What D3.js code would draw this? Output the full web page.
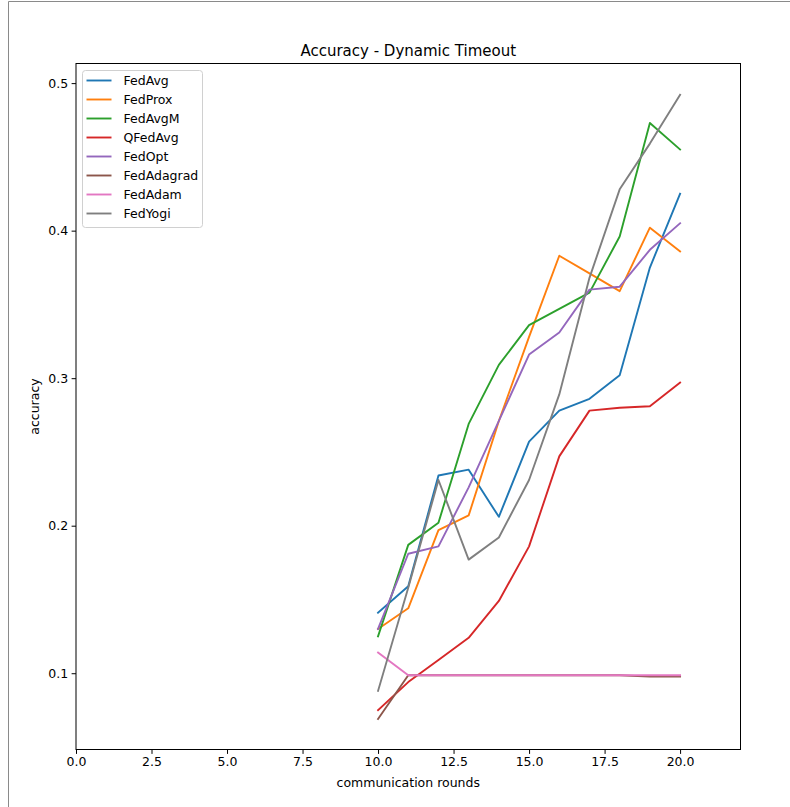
<!DOCTYPE html>
<html>
<head>
<meta charset="utf-8">
<script src="https://cdn.jsdelivr.net/npm/d3@7"></script>
<style>
  html, body { margin: 0; padding: 0; background: #fff; }
  svg { display: block; font-family: "DejaVu Sans", sans-serif; }
</style>
</head>
<body>
<svg id="chart" width="790" height="807"></svg>
<script>
const rounds = [10, 11, 12, 13, 14, 15, 16, 17, 18, 19, 20];
const seriesNames = ["FedAvg", "FedProx", "FedAvgM", "QFedAvg", "FedOpt", "FedAdagrad", "FedAdam", "FedYogi"];
const seriesColors = ["#1f77b4", "#ff7f0e", "#2ca02c", "#d62728", "#9467bd", "#8c564b", "#e377c2", "#7f7f7f"];
const fedAvg     = [0.141, 0.159, 0.234, 0.238, 0.206, 0.257, 0.278, 0.286, 0.302, 0.375, 0.425];
const fedProx    = [0.130, 0.144, 0.197, 0.207, 0.271, 0.328, 0.383, 0.371, 0.359, 0.402, 0.386];
const fedAvgM    = [0.125, 0.187, 0.202, 0.269, 0.309, 0.336, 0.347, 0.358, 0.396, 0.473, 0.455];
const qFedAvg    = [0.075, 0.094, 0.109, 0.124, 0.149, 0.186, 0.247, 0.278, 0.280, 0.281, 0.297];
const fedOpt     = [0.130, 0.181, 0.186, 0.226, 0.271, 0.316, 0.331, 0.360, 0.362, 0.387, 0.405];
const fedAdagrad = [0.069, 0.0986, 0.0986, 0.0986, 0.0986, 0.0986, 0.0986, 0.0986, 0.0986, 0.0977, 0.0977];
const fedAdam    = [0.114, 0.0986, 0.0986, 0.0986, 0.0986, 0.0986, 0.0986, 0.0986, 0.0986, 0.0986, 0.0986];
const fedYogi    = [0.088, 0.158, 0.231, 0.177, 0.192, 0.231, 0.289, 0.368, 0.428, 0.459, 0.492];
const seriesValues = [fedAvg, fedProx, fedAvgM, qFedAvg, fedOpt, fedAdagrad, fedAdam, fedYogi];
const xTicks = [0, 2.5, 5, 7.5, 10, 12.5, 15, 17.5, 20];
const yTicks = [0.1, 0.2, 0.3, 0.4, 0.5];

const svg = d3.select("#chart");
const L = 76, R = 740.5, T = 63.5, B = 749.5;
const x = d3.scaleLinear().domain([0, 22]).range([L, R]);
const y = d3.scaleLinear().domain([0.0483, 0.5133]).range([B, T]);

// figure border (partial, as in reference)
svg.append("path").attr("d", "M8.5,807V1.5H790").attr("fill", "none").attr("stroke", "#8a8a8a").attr("stroke-width", 1);

// title
svg.append("text").attr("x", (L + R) / 2).attr("y", 56).attr("text-anchor", "middle")
  .attr("font-size", 15).attr("fill", "#000").text("Accuracy - Dynamic Timeout");

// lines
const line = d3.line().x((d, i) => x(rounds[i])).y(d => y(d));
const g = svg.append("g");
seriesValues.forEach((vals, k) => {
  g.append("path").datum(vals).attr("d", line).attr("fill", "none")
    .attr("stroke", seriesColors[k]).attr("stroke-width", 1.9)
    .attr("stroke-linejoin", "round").attr("stroke-linecap", "square");
});

// axes
const xAxis = d3.axisBottom(x).tickValues(xTicks).tickFormat(d3.format(".1f")).tickSize(4.4).tickPadding(3.5);
const yAxis = d3.axisLeft(y).tickValues(yTicks).tickFormat(d3.format(".1f")).tickSize(4.4).tickPadding(3.5);
const gx = svg.append("g").attr("transform", `translate(0,${B})`).call(xAxis);
const gy = svg.append("g").attr("transform", `translate(${L},0)`).call(yAxis);
[gx, gy].forEach(a => {
  a.select(".domain").remove();
  a.selectAll(".tick line").attr("stroke", "#000").attr("stroke-width", 1);
  a.selectAll(".tick text").attr("font-size", 12.5).attr("fill", "#000").attr("font-family", "DejaVu Sans, sans-serif");
});

// frame
svg.append("rect").attr("x", L).attr("y", T).attr("width", R - L).attr("height", B - T)
  .attr("fill", "none").attr("stroke", "#000").attr("stroke-width", 1);

// axis labels
svg.append("text").attr("x", (L + R) / 2).attr("y", 787).attr("text-anchor", "middle")
  .attr("font-size", 12.5).attr("fill", "#000").text("communication rounds");
svg.append("text").attr("transform", `translate(39,${(T + B) / 2}) rotate(-90)`).attr("text-anchor", "middle")
  .attr("font-size", 12.5).attr("fill", "#000").text("accuracy");

// legend
const lg = svg.append("g").attr("transform", "translate(82.5,70.5)");
lg.append("rect").attr("width", 120).attr("height", 157).attr("rx", 3)
  .attr("fill", "#fff").attr("fill-opacity", 0.8).attr("stroke", "#d0d0d0").attr("stroke-width", 1);
seriesNames.forEach((name, k) => {
  const yy = 10 + k * 19;
  lg.append("line").attr("x1", 4).attr("x2", 29).attr("y1", yy).attr("y2", yy)
    .attr("stroke", seriesColors[k]).attr("stroke-width", 1.9);
  lg.append("text").attr("x", 41).attr("y", yy + 4.5).attr("font-size", 12.5).attr("fill", "#000").text(name);
});
</script>
</body>
</html>
